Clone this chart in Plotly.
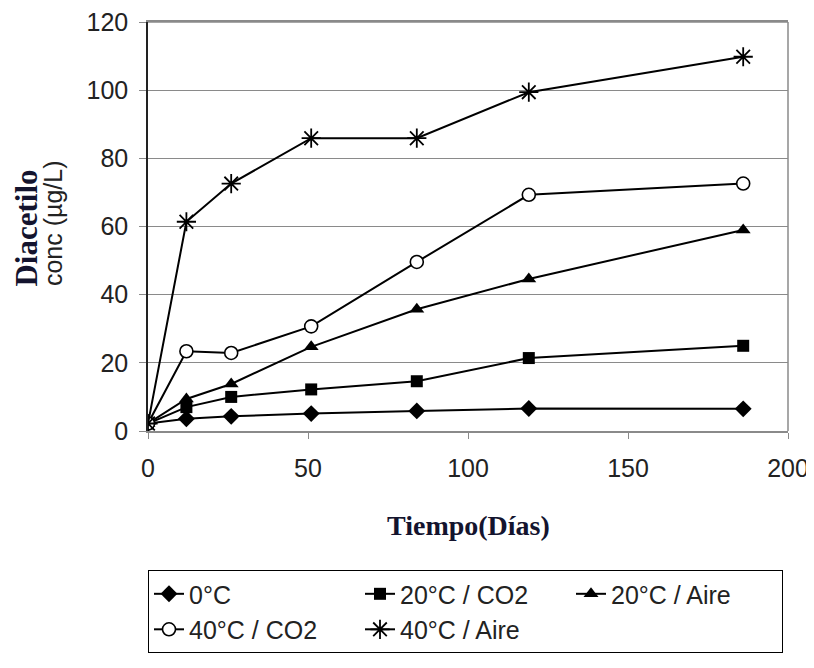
import plotly.graph_objects as go

days = [0, 12, 26, 51, 84, 119, 186]
s_0c = [2.2, 3.6, 4.3, 5.1, 5.9, 6.6, 6.5]
s_20co2 = [2.2, 7.0, 10.0, 12.2, 14.6, 21.4, 25.0]
s_20aire = [2.2, 9.4, 13.8, 24.7, 35.7, 44.6, 59.0]
s_40co2 = [2.2, 23.4, 22.9, 30.7, 49.6, 69.3, 72.6]
s_40aire = [2.2, 61.4, 72.6, 85.9, 85.9, 99.4, 109.8]

names = ["0°C", "20°C / CO2", "20°C / Aire", "40°C / CO2", "40°C / Aire"]
series = [s_0c, s_20co2, s_20aire, s_40co2, s_40aire]
x_ticks = [0, 50, 100, 150, 200]
y_ticks = [0, 20, 40, 60, 80, 100, 120]

markers = [
    dict(symbol="diamond", size=13, color="black"),
    dict(symbol="square", size=12, color="black"),
    dict(symbol="triangle-up", size=13, color="black"),
    dict(symbol="circle", size=13, color="white", line=dict(color="black", width=1.6)),
    dict(symbol="asterisk-open", size=16, color="black", line=dict(color="black", width=1.8)),
]

fig = go.Figure()
for n, s, m in zip(names, series, markers):
    fig.add_trace(go.Scatter(x=days, y=s, name=n, mode="lines+markers",
                             line=dict(color="black", width=2), marker=m))

tick_font = dict(family="Liberation Sans, Arial, sans-serif", size=25, color="#222222")

fig.update_layout(
    width=806, height=660,
    margin=dict(l=140, r=26, t=14, b=237, autoexpand=False),
    paper_bgcolor="white", plot_bgcolor="white",
    showlegend=True,
    legend=dict(orientation="h", x=0, xanchor="left", y=-0.34, yanchor="top",
                bordercolor="black", borderwidth=1, bgcolor="white",
                entrywidth=166, entrywidthmode="pixels",
                font=dict(family="Liberation Sans, Arial, sans-serif", size=25, color="#222222"),
                traceorder="normal"),
    xaxis=dict(range=[0, 200], tickvals=x_ticks, showgrid=False, zeroline=False,
               showline=True, linecolor="#8a8a8a", linewidth=1.5, mirror=True,
               ticks="outside", ticklen=6, tickcolor="#8a8a8a", tickfont=tick_font,
               ticklabelstandoff=8, ticklabeloverflow="allow", automargin=False),
    yaxis=dict(range=[0, 120], tickvals=y_ticks, showgrid=True, gridcolor="#8a8a8a",
               gridwidth=1.2, zeroline=False, showline=True, linecolor="#222222",
               linewidth=1.5, ticks="outside", ticklen=7, tickcolor="#8a8a8a",
               tickfont=tick_font, ticklabelstandoff=6, ticklabeloverflow="allow",
               automargin=False),
)

fig.add_shape(type="line", xref="paper", yref="paper", x0=1, x1=1, y0=0, y1=1,
              line=dict(color="#8a8a8a", width=1.5))
fig.add_shape(type="line", xref="paper", yref="paper", x0=0, x1=1, y0=1, y1=1,
              line=dict(color="#8a8a8a", width=1.5))

fig.add_annotation(text="<b>Diacetilo</b>", xref="paper", yref="paper",
                   x=-0.19, y=0.496, textangle=-90, showarrow=False,
                   xanchor="center", yanchor="middle",
                   font=dict(family="Liberation Serif, Times New Roman, serif", size=31, color="#14142e"))
fig.add_annotation(text="conc (µg/L)", xref="paper", yref="paper",
                   x=-0.148, y=0.509, textangle=-90, showarrow=False,
                   xanchor="center", yanchor="middle",
                   font=dict(family="Liberation Sans, Arial, sans-serif", size=25, color="#222222"))
fig.add_annotation(text="<b>Tiempo(Días)</b>", xref="paper", yref="paper",
                   x=0.5, y=-0.231, showarrow=False, xanchor="center", yanchor="middle",
                   font=dict(family="Liberation Serif, Times New Roman, serif", size=28, color="#14142e"))

fig.write_html("out.html")
